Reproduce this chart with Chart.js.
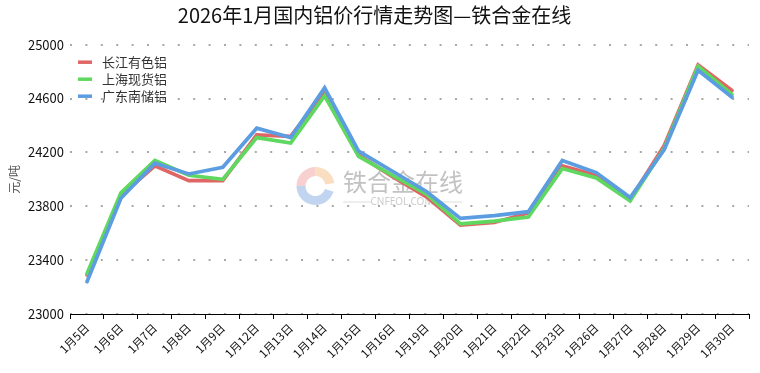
<!DOCTYPE html>
<html>
<head>
<meta charset="utf-8">
<script src="https://cdn.jsdelivr.net/npm/chart.js@4.4.1/dist/chart.umd.min.js"></script>
<style>
html,body{margin:0;padding:0;background:#fff;}
#wrap{width:760px;height:373px;}
</style>
</head>
<body>
<div id="wrap"><canvas id="c" width="760" height="373"></canvas></div>
<script>
const titleText = '2026年1月国内铝价行情走势图—铁合金在线';
const yAxisTitle = '元/吨';
const categories = ['1月5日','1月6日','1月7日','1月8日','1月9日','1月12日','1月13日','1月14日','1月15日','1月16日','1月19日','1月20日','1月21日','1月22日','1月23日','1月26日','1月27日','1月28日','1月29日','1月30日'];
const seriesNames = ['长江有色铝','上海现货铝','广东南储铝'];
const changjiang = [23290,23880,24100,23990,23990,24330,24320,24650,24180,24020,23870,23660,23680,23750,24100,24030,23850,24250,24850,24660];
const shanghai   = [23300,23900,24140,24030,24000,24310,24270,24620,24170,24030,23890,23670,23690,23720,24080,24010,23840,24230,24840,24630];
const guangdong  = [23240,23860,24120,24040,24090,24380,24310,24680,24210,24060,23910,23710,23730,23760,24140,24050,23865,24220,24810,24610];
const yMin = 23000, yMax = 25000, yStep = 400;

const colors = ['#e06666','#5fd85f','#5b9de0'];

const watermark = {
  id: 'watermark',
  beforeDatasetsDraw(chart) {
    const ctx = chart.ctx;
    ctx.save();
    const cx = 315.5, cy = 186;
    ctx.lineWidth = 9;
    ctx.globalAlpha = 0.55;
    ctx.strokeStyle = '#f2a9a9';
    ctx.beginPath(); ctx.arc(cx, cy, 14.5, Math.PI*1.0, Math.PI*1.5); ctx.stroke();
    ctx.strokeStyle = '#f6c28e';
    ctx.beginPath(); ctx.arc(cx, cy, 14.5, Math.PI*1.5, Math.PI*1.95); ctx.stroke();
    ctx.strokeStyle = '#8fb3e3';
    ctx.beginPath(); ctx.arc(cx, cy, 14.5, Math.PI*0.1, Math.PI*1.0); ctx.stroke();
    ctx.globalAlpha = 0.6;
    ctx.fillStyle = '#9a9a9a';
    ctx.font = '24px "Noto Sans CJK SC"';
    ctx.textBaseline = 'middle';
    ctx.textAlign = 'left';
    ctx.fillText('铁合金在线', 343, 182);
    ctx.globalAlpha = 0.5;
    ctx.font = '10px "Noto Sans"';
    ctx.textAlign = 'center';
    ctx.fillText('CNFEOL.COM', 402, 202);
    ctx.strokeStyle = '#bbbbbb';
    ctx.lineWidth = 1;
    ctx.beginPath(); ctx.moveTo(343, 202); ctx.lineTo(371, 202); ctx.moveTo(433, 202); ctx.lineTo(462, 202); ctx.stroke();
    ctx.restore();
  }
};

const insideLegend = {
  id: 'insideLegend',
  afterDraw(chart) {
    const ctx = chart.ctx;
    const area = chart.chartArea;
    ctx.save();
    ctx.font = '13px "Noto Sans CJK SC"';
    ctx.textBaseline = 'middle';
    ctx.textAlign = 'left';
    chart.data.datasets.forEach((ds, i) => {
      const y = area.top + 17.5 + i * 17;
      const x0 = area.left + 8;
      ctx.strokeStyle = ds.borderColor;
      ctx.lineWidth = 3.5;
      ctx.beginPath(); ctx.moveTo(x0, y); ctx.lineTo(x0 + 14, y); ctx.stroke();
      ctx.fillStyle = '#333';
      ctx.fillText(ds.label, x0 + 24, y);
    });
    ctx.restore();
  }
};

new Chart(document.getElementById('c'), {
  type: 'line',
  data: {
    labels: categories,
    datasets: [
      {label: seriesNames[0], data: changjiang, borderColor: colors[0], backgroundColor: colors[0], order: 3},
      {label: seriesNames[1], data: shanghai, borderColor: colors[1], backgroundColor: colors[1], order: 2},
      {label: seriesNames[2], data: guangdong, borderColor: colors[2], backgroundColor: colors[2], order: 1}
    ]
  },
  options: {
    responsive: false,
    animation: false,
    devicePixelRatio: 1,
    layout: {padding: {left: 0, right: 11, top: 0, bottom: 0}},
    elements: {
      line: {borderWidth: 3.7, tension: 0, borderCapStyle: 'round', borderJoinStyle: 'miter'},
      point: {radius: 0, hoverRadius: 0}
    },
    plugins: {
      title: {
        display: true, text: titleText, color: '#111',
        font: {family: '"Noto Sans CJK SC"', size: 20, weight: 'normal'},
        padding: {top: 3, bottom: 17.7}
      },
      legend: {display: false},
      tooltip: {enabled: false}
    },
    scales: {
      x: {
        offset: true,
        grid: {display: true, offset: true, drawOnChartArea: false, drawTicks: true, tickLength: 5, color: '#000'},
        border: {display: true, color: '#000', width: 1},
        ticks: {
          color: '#111', maxRotation: 45, minRotation: 45, autoSkip: false,
          font: {family: '"Noto Sans CJK SC"', size: 11.5}, padding: 2
        },
        afterFit(scale) { scale.height = 59; }
      },
      y: {
        min: yMin, max: yMax,
        grid: {display: true, drawTicks: false, color: '#a8a8a8', lineWidth: 2, borderDash: [2, 13.4]},
        border: {display: false, dash: [2, 13.4], dashOffset: 0},
        ticks: {
          stepSize: yStep, color: '#111', padding: 6,
          font: {family: '"Noto Sans CJK SC"', size: 13},
          callback: (v) => String(v)
        },
        title: {
          display: true, text: yAxisTitle, color: '#555',
          font: {family: '"Noto Sans CJK SC"', size: 12}, padding: {top: 7, bottom: 0}
        },
        afterFit(scale) { scale.width = 70; }
      }
    }
  },
  plugins: [watermark, insideLegend]
});
</script>
</body>
</html>
